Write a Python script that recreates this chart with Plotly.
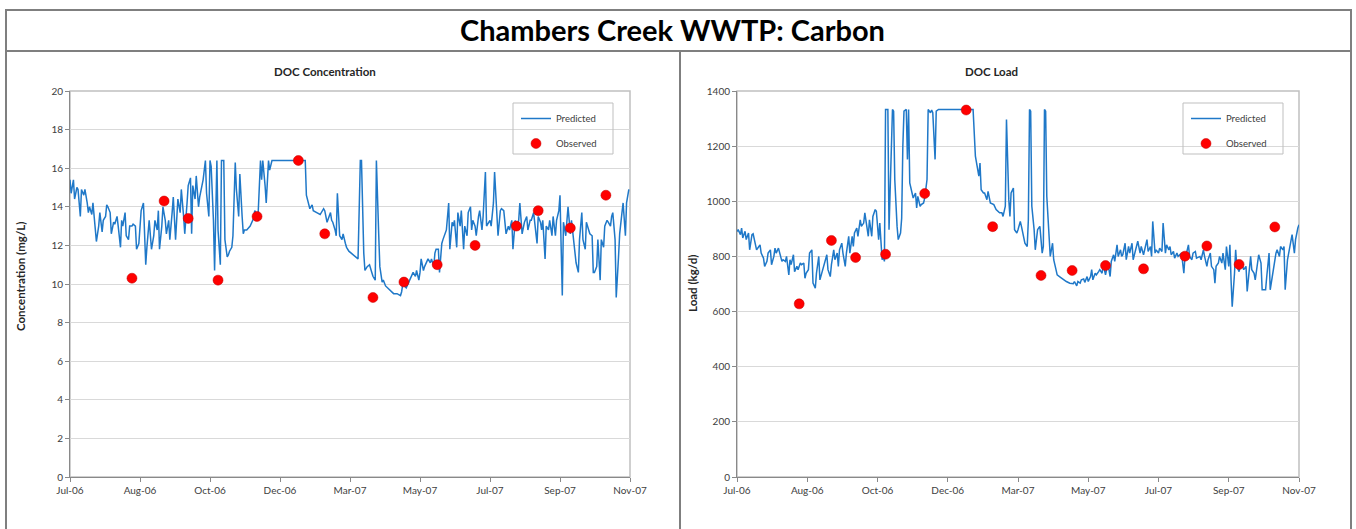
import pandas as pd
import plotly.graph_objects as go

# ---------------- data ----------------
start_date = "2006-07-01"

tick_dates = ["2006-07-01", "2006-08-31", "2006-10-31", "2006-12-31", "2007-03-02",
              "2007-05-02", "2007-07-02", "2007-09-01", "2007-11-01"]
tick_labels = ["Jul-06", "Aug-06", "Oct-06", "Dec-06", "Mar-07", "May-07", "Jul-07", "Sep-07", "Nov-07"]

# days since start_date
pred_conc_day = [0, 1, 3, 4, 6, 7, 9, 10, 12, 13, 15, 16, 17, 19, 20, 22, 23, 25, 26, 28, 29, 31, 32, 33, 35,
                 36, 38, 39, 41, 42, 44, 45, 46, 48, 49, 51, 52, 54, 55, 57, 58, 60, 61, 62, 64, 65, 66, 67,
                 69, 71, 73, 74, 76, 77, 78, 80, 81, 83, 84, 86, 87, 89, 90, 92, 93, 94, 96, 97, 99, 100,
                 102, 103, 105, 106, 107, 109, 110, 112, 113, 115, 116, 118, 119, 121, 122, 123, 125, 126,
                 128, 129, 131, 132, 134, 135, 137, 138, 139, 141, 142, 144, 145, 147, 148, 150, 151, 152,
                 154, 157, 160, 161, 163, 164, 166, 167, 168, 170, 171, 173, 174, 176, 195, 205, 206, 208,
                 209, 211, 212, 215, 218, 221, 222, 224, 225, 227, 228, 229, 231, 232, 233, 235, 237, 238,
                 240, 241, 243, 245, 248, 251, 253, 254, 256, 257, 259, 261, 263, 264, 266, 267, 269, 270,
                 272, 273, 275, 279, 282, 285, 288, 289, 290, 293, 296, 299, 301, 302, 304, 305, 306, 308,
                 309, 311, 312, 314, 315, 317, 318, 319, 321, 322, 324, 325, 327, 328, 330, 331, 333, 334,
                 335, 337, 338, 340, 341, 343, 344, 346, 347, 349, 350, 351, 353, 354, 356, 357, 359, 360,
                 362, 363, 365, 366, 367, 369, 370, 372, 373, 375, 376, 378, 379, 380, 382, 383, 385, 386,
                 388, 389, 391, 392, 394, 395, 396, 398, 399, 401, 402, 404, 405, 407, 408, 410, 411, 412,
                 414, 415, 417, 418, 420, 421, 423, 424, 426, 427, 428, 429, 430, 432, 434, 436, 437, 439,
                 440, 441, 443, 444, 446, 447, 449, 450, 452, 453, 455, 456, 457, 459, 460, 462, 463, 465,
                 466, 468, 469, 471, 472, 473, 475, 476, 478, 479, 481, 482, 484, 485, 487]
pred_conc = [15.4, 14.7, 15.4, 14.4, 15.0, 14.9, 13.5, 14.9, 14.6, 14.9, 14.2, 13.7, 14.0, 13.6, 14.2, 13.0,
             12.2, 13.0, 13.7, 12.7, 13.3, 13.5, 14.1, 14.0, 13.7, 12.6, 13.2, 13.1, 13.5, 13.0, 11.9, 13.3,
             13.0, 13.7, 12.5, 12.3, 13.0, 13.0, 13.1, 13.0, 11.8, 12.1, 12.8, 13.8, 14.2, 12.5, 11.0, 11.9,
             13.3, 11.8, 12.5, 13.3, 12.8, 13.8, 11.8, 13.0, 14.0, 13.3, 12.6, 13.3, 12.3, 13.7, 14.5, 12.3,
             13.7, 14.4, 13.7, 14.9, 13.5, 12.6, 14.2, 15.1, 15.5, 12.6, 15.1, 14.4, 15.6, 14.0, 14.5, 15.1,
             15.4, 16.4, 14.7, 13.5, 16.4, 16.1, 13.3, 10.7, 16.4, 12.8, 11.0, 16.4, 16.4, 12.3, 11.4, 11.5,
             11.7, 11.9, 12.5, 16.3, 14.9, 13.5, 15.7, 13.5, 12.6, 12.8, 12.8, 13.0, 13.4, 13.8, 13.6, 13.7,
             16.4, 15.4, 16.4, 15.1, 14.2, 16.4, 15.9, 16.4, 16.4, 16.4, 14.6, 14.1, 13.9, 14.1, 13.8, 13.7,
             13.6, 13.9, 13.8, 13.2, 13.4, 13.7, 13.3, 13.2, 12.8, 12.5, 14.7, 12.5, 12.3, 12.6, 12.1, 11.9,
             11.7, 11.6, 11.4, 11.3, 16.4, 16.4, 11.6, 10.7, 10.9, 11.0, 10.6, 10.4, 10.2, 16.4, 12.6, 10.9,
             10.1, 10.2, 9.9, 9.7, 9.5, 9.5, 9.4, 9.6, 10.0, 9.8, 10.2, 10.6, 10.4, 10.7, 10.2, 10.6, 11.3,
             10.7, 10.9, 11.2, 11.3, 11.1, 11.3, 10.9, 11.6, 11.8, 11.8, 10.6, 12.1, 12.3, 12.6, 12.8, 14.2,
             11.8, 13.2, 13.0, 13.3, 11.9, 13.7, 13.0, 13.8, 11.8, 13.0, 12.5, 13.7, 14.0, 12.8, 13.3, 13.0,
             12.5, 13.5, 13.8, 12.8, 13.5, 15.8, 13.0, 13.2, 13.3, 13.0, 14.2, 15.8, 13.8, 12.5, 13.8, 13.9,
             13.8, 13.3, 12.6, 13.0, 12.8, 13.3, 11.8, 13.3, 13.0, 13.3, 14.2, 12.6, 13.0, 13.2, 13.5, 12.8,
             13.3, 13.3, 13.7, 13.2, 12.1, 13.5, 13.2, 12.8, 13.3, 11.3, 13.0, 12.8, 13.3, 12.5, 13.5, 12.5,
             13.3, 13.8, 14.6, 11.9, 9.4, 13.2, 12.5, 14.0, 12.6, 13.3, 12.3, 11.8, 11.1, 10.6, 12.3, 13.7,
             12.3, 11.8, 13.2, 12.8, 12.6, 12.5, 10.6, 10.6, 10.9, 12.3, 10.2, 12.3, 11.9, 13.0, 13.3, 13.2,
             13.0, 13.5, 13.7, 12.3, 9.3, 11.4, 12.6, 13.7, 14.2, 12.5, 14.2, 14.9]

pred_load_day = [0, 1, 3, 4, 5, 7, 8, 10, 11, 13, 14, 16, 17, 19, 20, 21, 23, 24, 26, 27, 29, 30, 32, 33, 34,
                 36, 37, 39, 40, 42, 43, 45, 46, 47, 49, 50, 52, 53, 55, 56, 58, 59, 60, 62, 63, 65, 66, 68,
                 69, 71, 72, 74, 75, 76, 78, 79, 81, 82, 84, 85, 87, 88, 89, 91, 92, 94, 95, 97, 98, 100,
                 101, 102, 104, 105, 107, 108, 110, 111, 113, 114, 115, 117, 118, 120, 121, 123, 124, 126,
                 127, 128, 129, 131, 132, 133, 135, 136, 137, 139, 140, 142, 143, 144, 145, 147, 148, 149,
                 150, 152, 153, 155, 156, 157, 159, 160, 162, 163, 165, 166, 168, 169, 170, 172, 173, 175,
                 191, 205, 207, 208, 210, 211, 212, 214, 215, 217, 218, 220, 223, 225, 228, 230, 231, 233,
                 234, 236, 237, 238, 240, 241, 243, 244, 246, 247, 249, 250, 252, 253, 254, 255, 256, 258,
                 259, 261, 262, 263, 265, 266, 267, 268, 269, 271, 272, 274, 275, 277, 278, 280, 282, 283,
                 286, 289, 292, 293, 295, 296, 298, 299, 301, 302, 304, 305, 307, 308, 309, 311, 312, 314,
                 315, 317, 318, 320, 321, 322, 324, 325, 327, 328, 330, 331, 333, 334, 335, 337, 338, 340,
                 341, 343, 344, 346, 347, 348, 350, 351, 353, 354, 356, 357, 359, 360, 361, 363, 364, 366,
                 367, 369, 370, 372, 373, 375, 376, 377, 379, 380, 382, 383, 385, 386, 388, 389, 390, 392,
                 393, 395, 396, 398, 399, 401, 402, 403, 405, 406, 408, 409, 411, 412, 414, 415, 416, 418,
                 419, 421, 422, 424, 425, 427, 428, 429, 430, 432, 433, 434, 436, 437, 439, 440, 442, 443,
                 445, 446, 447, 449, 450, 452, 453, 455, 456, 458, 459, 460, 462, 463, 465, 466, 468, 469,
                 471, 472, 474, 475, 476, 478, 479, 481, 482, 484, 485, 487, 488]
pred_load = [890, 897, 879, 903, 867, 891, 861, 885, 824, 879, 882, 848, 824, 836, 842, 812, 794, 764, 782,
             812, 824, 770, 800, 830, 812, 830, 812, 782, 788, 782, 800, 733, 788, 770, 806, 745, 764, 752,
             776, 770, 776, 721, 739, 752, 812, 824, 703, 685, 739, 800, 715, 745, 764, 782, 806, 752, 727,
             770, 824, 788, 812, 764, 824, 848, 812, 764, 812, 873, 812, 873, 836, 885, 903, 873, 933, 909,
             921, 958, 909, 873, 933, 873, 945, 970, 964, 861, 921, 788, 800, 782, 1333, 1333, 897, 1079,
             1333, 1327, 1079, 909, 861, 885, 939, 1200, 1327, 1333, 1152, 1333, 1067, 1030, 1012, 1030,
             976, 1018, 982, 988, 994, 1012, 1079, 1333, 1321, 1331, 1321, 1152, 1327, 1333, 1333, 1333,
             1164, 1139, 1091, 1139, 1042, 1030, 1030, 1006, 1036, 994, 988, 970, 958, 958, 945, 982, 1297,
             1006, 945, 1030, 1048, 897, 885, 897, 927, 909, 861, 848, 836, 933, 1333, 1327, 982, 897, 824,
             897, 903, 909, 812, 836, 1333, 1327, 1018, 885, 800, 848, 788, 752, 733, 727, 721, 715, 709,
             703, 701, 709, 693, 709, 703, 715, 718, 706, 727, 709, 727, 752, 715, 739, 733, 745, 752, 739,
             770, 733, 758, 776, 727, 782, 806, 782, 842, 800, 824, 800, 806, 848, 788, 836, 812, 848, 788,
             824, 836, 855, 812, 836, 806, 824, 861, 818, 836, 800, 927, 812, 824, 812, 830, 818, 921, 812,
             842, 824, 836, 806, 818, 794, 812, 800, 806, 812, 739, 800, 806, 842, 800, 788, 812, 818, 794,
             800, 800, 788, 824, 800, 764, 788, 812, 764, 752, 703, 764, 776, 800, 776, 812, 752, 836, 764,
             842, 715, 618, 739, 824, 764, 745, 764, 764, 752, 764, 673, 764, 800, 752, 739, 715, 788, 806,
             776, 679, 679, 679, 727, 812, 679, 739, 770, 812, 824, 800, 836, 824, 836, 679, 788, 812, 848,
             879, 812, 861, 903, 915]

obs_day = [54, 82, 103, 129, 163, 199, 222, 264, 291, 320, 353, 389, 408, 436, 467]
obs_conc = [10.3, 14.3, 13.4, 10.2, 13.5, 16.4, 12.6, 9.3, 10.1, 11.0, 12.0, 13.0, 13.8, 12.9, 14.6]
obs_load = [628, 858, 796, 808, 1028, 1331, 908, 731, 749, 767, 755, 801, 838, 771, 907]

# ---------------- figure ----------------
W, H = 1356, 529
FONT = "Lato, 'Open Sans', sans-serif"
LINE_BLUE = "#1F78C8"
AXIS_GRAY = "#898989"
GRID_GRAY = "#D9D9D9"
BORDER_GRAY = "#7F7F7F"


def X(px):
    return px / W


def Y(py):
    return 1 - py / H


def to_dates(days):
    return pd.Timestamp(start_date) + pd.to_timedelta(days, unit="D")


fig = go.Figure()

marker_style = dict(color="#FF0000", size=10, line=dict(color="#C00000", width=0.5))
fig.add_trace(go.Scatter(x=to_dates(pred_conc_day), y=pred_conc, mode="lines", name="Predicted",
                         line=dict(color=LINE_BLUE, width=1.5), xaxis="x", yaxis="y",
                         legend="legend", legendgroup="p1"))
fig.add_trace(go.Scatter(x=to_dates(obs_day), y=obs_conc, mode="markers", name="Observed",
                         marker=marker_style, xaxis="x", yaxis="y", legend="legend", legendgroup="o1"))
fig.add_trace(go.Scatter(x=to_dates(pred_load_day), y=pred_load, mode="lines", name="Predicted",
                         line=dict(color=LINE_BLUE, width=1.5), xaxis="x2", yaxis="y2",
                         legend="legend2", legendgroup="p2"))
fig.add_trace(go.Scatter(x=to_dates(obs_day), y=obs_load, mode="markers", name="Observed",
                         marker=marker_style, xaxis="x2", yaxis="y2", legend="legend2", legendgroup="o2"))

xaxis_common = dict(type="date", range=[tick_dates[0], tick_dates[-1]], tickmode="array",
                    tickvals=tick_dates, ticktext=tick_labels, showgrid=False, zeroline=False,
                    showline=True, linecolor=AXIS_GRAY, linewidth=1, ticks="outside", ticklen=4,
                    tickcolor=AXIS_GRAY, automargin=False,
                    tickfont=dict(family=FONT, size=10, color="#404040"))
yaxis_common = dict(showgrid=True, gridcolor=GRID_GRAY, gridwidth=1, zeroline=False, showline=True,
                    linecolor=AXIS_GRAY, linewidth=1, ticks="outside", ticklen=4, tickcolor=AXIS_GRAY,
                    automargin=False, tickfont=dict(family=FONT, size=10, color="#404040"))

L = dict(x0=70, x1=630)
R = dict(x0=737, x1=1299)
TOP, BOT = 91, 477

legend_style = dict(xanchor="left", yanchor="top", bgcolor="rgba(0,0,0,0)", borderwidth=0,
                    font=dict(family=FONT, size=9.5, color="#404040"), tracegroupgap=6)

fig.update_layout(
    width=W, height=H, margin=dict(l=0, r=0, t=0, b=0, autoexpand=False),
    paper_bgcolor="white", plot_bgcolor="white",
    font=dict(family=FONT, color="#000000"),
    xaxis=dict(domain=[X(L["x0"]), X(L["x1"])], anchor="y", **xaxis_common),
    yaxis=dict(domain=[Y(BOT), Y(TOP)], anchor="x", range=[0, 20], dtick=2, **yaxis_common),
    xaxis2=dict(domain=[X(R["x0"]), X(R["x1"])], anchor="y2", **xaxis_common),
    yaxis2=dict(domain=[Y(BOT), Y(TOP)], anchor="x2", range=[0, 1400], dtick=200, **yaxis_common),
    legend=dict(x=X(516), y=Y(104), **legend_style),
    legend2=dict(x=X(1186), y=Y(104), **legend_style),
    showlegend=True,
)

shapes = [
    # outer frame, title separator, panel divider
    dict(type="rect", x0=X(6), x1=X(1351), y0=Y(540), y1=Y(10), line=dict(color=BORDER_GRAY, width=2)),
    dict(type="line", x0=X(6), x1=X(1351), y0=Y(51), y1=Y(51), line=dict(color=BORDER_GRAY, width=2)),
    dict(type="line", x0=X(680), x1=X(680), y0=Y(51), y1=Y(540), line=dict(color=BORDER_GRAY, width=2)),
    # plot-area frames
    dict(type="rect", x0=X(L["x0"]), x1=X(L["x1"]), y0=Y(BOT), y1=Y(TOP), layer="below",
         line=dict(color="#C0C0C0", width=1.5)),
    dict(type="rect", x0=X(R["x0"]), x1=X(R["x1"]), y0=Y(BOT), y1=Y(TOP), layer="below",
         line=dict(color="#C0C0C0", width=1.5)),
    # legend boxes
    dict(type="rect", x0=X(513), x1=X(613), y0=Y(154), y1=Y(103), line=dict(color="#BFBFBF", width=1)),
    dict(type="rect", x0=X(1183), x1=X(1283), y0=Y(154), y1=Y(103), line=dict(color="#BFBFBF", width=1)),
]
for s in shapes:
    s.setdefault("xref", "paper")
    s.setdefault("yref", "paper")
fig.update_layout(shapes=shapes)

annotations = [
    dict(text="<b>Chambers Creek WWTP: Carbon</b>", x=X(672), y=Y(30), font=dict(size=29, family=FONT)),
    dict(text="<b>DOC Concentration</b>", x=X(325), y=Y(72), font=dict(size=11.5, family=FONT, color="#262626")),
    dict(text="<b>DOC Load</b>", x=X(991), y=Y(72), font=dict(size=11.5, family=FONT, color="#262626")),
    dict(text="<b>Concentration (mg/L)</b>", x=X(20), y=Y(277), textangle=-90,
         font=dict(size=11.5, family=FONT, color="#262626")),
    dict(text="<b>Load (kg/d)</b>", x=X(692), y=Y(284), textangle=-90,
         font=dict(size=11.5, family=FONT, color="#262626")),
]
for a in annotations:
    a.update(xref="paper", yref="paper", showarrow=False, xanchor="center", yanchor="middle")
fig.update_layout(annotations=annotations)

fig.write_html("out.html", config={"displayModeBar": False},
               post_script="document.body.style.margin='0';document.body.style.overflow='hidden';")
